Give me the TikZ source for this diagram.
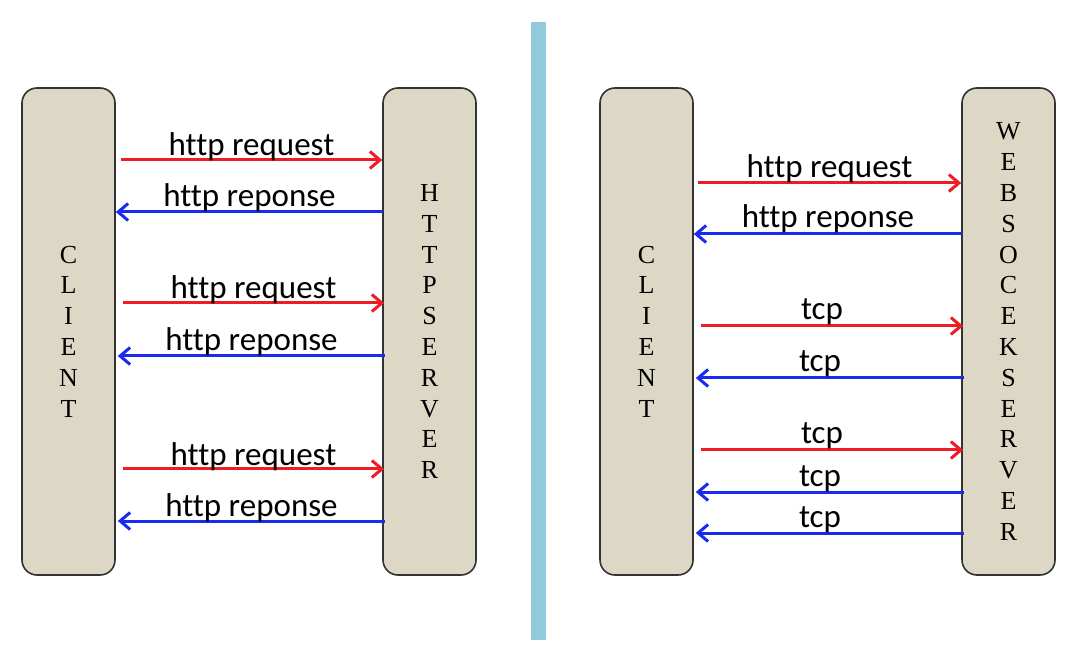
\documentclass[tikz,border=0pt]{standalone}
\usepackage{fontspec}
\setmainfont{Liberation Serif}
\newfontfamily\labfont[Ligatures={NoCommon}]{Carlito}
\usetikzlibrary{arrows.meta}
\definecolor{boxfill}{HTML}{DDD8C5}
\definecolor{boxline}{HTML}{333333}
\definecolor{reqcol}{HTML}{EE1C25}
\definecolor{respcol}{HTML}{1A2BF0}
\definecolor{barcol}{HTML}{93CADB}
\tikzset{
  lanebox/.style={draw=boxline, fill=boxfill, rounded corners=15pt, line width=1.6pt,
    minimum width=93pt, minimum height=487pt, align=center, inner sep=0pt,
    font=\fontsize{26}{30.8}\selectfont, text=black},
  reqarrow/.style={draw=reqcol, line width=3pt, -{Straight Barb[length=10pt,width=17pt]}},
  resparrow/.style={draw=respcol, line width=3pt, -{Straight Barb[length=10pt,width=17pt]}},
  lbl/.style={font=\labfont\fontsize{33}{36}\selectfont, inner sep=0pt, anchor=base, text=black}
}
\begin{document}
\begin{tikzpicture}[x=1pt,y=-1pt]
\useasboundingbox (0,0) rectangle (1080,652);
\fill[barcol] (531,22) rectangle (546,640);

\node[lanebox] (c1) at (68.5,331.5) {C\\L\\I\\E\\N\\T};
\node[lanebox] (s1) at (429.5,331.5) {H\\T\\T\\P\\S\\E\\R\\V\\E\\R};
\node[lanebox] (c2) at (646.5,331.5) {C\\L\\I\\E\\N\\T};
\node[lanebox] (s2) at (1008.5,331.5) {W\\E\\B\\S\\O\\C\\E\\K\\S\\E\\R\\V\\E\\R};

% left panel
\draw[reqarrow] ([xshift=5pt]c1.east |- 0,160) -- (s1.west |- 0,160)
  node[lbl, midway, yshift=4pt] {http request};
\draw[resparrow] ([xshift=1pt]s1.west |- 0,212) -- (c1.east |- 0,212)
  node[lbl, midway, yshift=5pt] {http reponse};
\draw[reqarrow] ([xshift=7pt]c1.east |- 0,303) -- ([xshift=2pt]s1.west |- 0,303)
  node[lbl, midway, yshift=4pt] {http request};
\draw[resparrow] ([xshift=3pt]s1.west |- 0,356) -- ([xshift=2pt]c1.east |- 0,356)
  node[lbl, midway, yshift=5pt] {http reponse};
\draw[reqarrow] ([xshift=7pt]c1.east |- 0,469) -- ([xshift=2pt]s1.west |- 0,469)
  node[lbl, midway, yshift=4pt] {http request};
\draw[resparrow] ([xshift=3pt]s1.west |- 0,521) -- ([xshift=2pt]c1.east |- 0,521)
  node[lbl, midway, yshift=5pt] {http reponse};

% right panel
\draw[reqarrow] ([xshift=4pt]c2.east |- 0,183) -- (s2.west |- 0,183)
  node[lbl, midway, yshift=5pt] {http request};
\draw[resparrow] ([xshift=1pt]s2.west |- 0,234) -- (c2.east |- 0,234)
  node[lbl, midway, yshift=6pt] {http reponse};
\draw[reqarrow] ([xshift=7pt]c2.east |- 0,326) -- ([xshift=2pt]s2.west |- 0,326)
  node[lbl, midway, yshift=6pt, xshift=-10pt] {tcp};
\draw[resparrow] ([xshift=3pt]s2.west |- 0,378) -- ([xshift=2pt]c2.east |- 0,378)
  node[lbl, midway, yshift=6pt, xshift=-10pt] {tcp};
\draw[reqarrow] ([xshift=7pt]c2.east |- 0,450) -- ([xshift=2pt]s2.west |- 0,450)
  node[lbl, midway, yshift=6pt, xshift=-10pt] {tcp};
\draw[resparrow] ([xshift=3pt]s2.west |- 0,492) -- ([xshift=2pt]c2.east |- 0,492)
  node[lbl, midway, yshift=6pt, xshift=-10pt] {tcp};
\draw[resparrow] ([xshift=3pt]s2.west |- 0,533) -- ([xshift=2pt]c2.east |- 0,533)
  node[lbl, midway, yshift=6pt, xshift=-10pt] {tcp};
\end{tikzpicture}
\end{document}
